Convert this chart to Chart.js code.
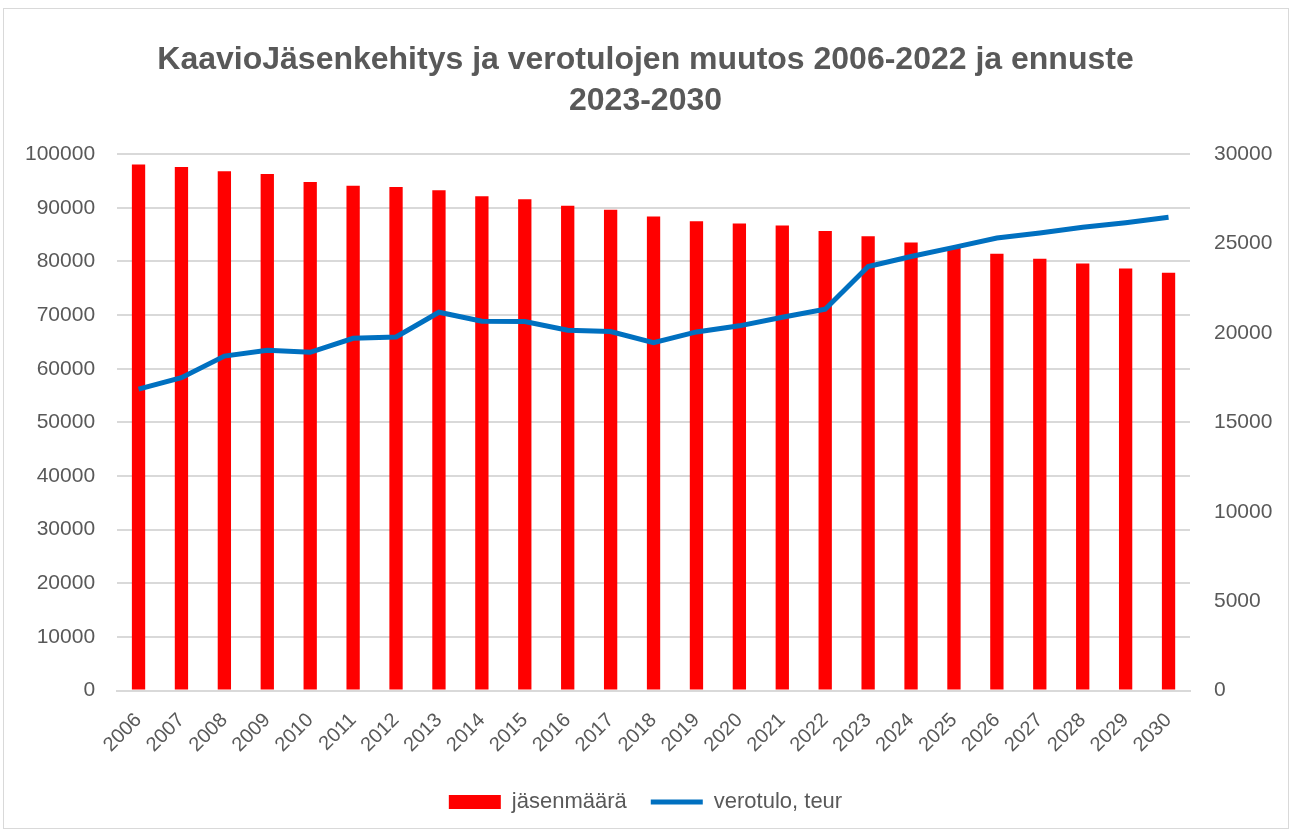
<!DOCTYPE html>
<html>
<head>
<meta charset="utf-8">
<script src="https://cdn.jsdelivr.net/npm/chart.js@4.4.1/dist/chart.umd.min.js"></script>
<style>
  html, body { margin: 0; padding: 0; background: #fff; }
  #wrap { position: relative; width: 1291px; height: 832px; box-sizing: border-box; }
  #frame { position: absolute; left: 3px; top: 8px; right: 2px; bottom: 3px; border: 1px solid #d9d9d9; }
</style>
</head>
<body>
<div id="wrap">
  <div id="frame"></div>
  <canvas id="chart"></canvas>
</div>
<script>
const years = ["2006", "2007", "2008", "2009", "2010", "2011", "2012", "2013", "2014",
  "2015", "2016", "2017", "2018", "2019", "2020", "2021", "2022", "2023", "2024",
  "2025", "2026", "2027", "2028", "2029", "2030"];

// jäsenmäärä (left axis)
const members = [98100, 97600, 96800, 96300, 94800, 94100, 93900, 93300, 92150,
  91600, 90400, 89650, 88400, 87500, 87100, 86700, 85700, 84700, 83550,
  82500, 81450, 80500, 79600, 78700, 77900];

// verotulo, teur (right axis)
const taxIncome = [16860, 17500, 18710, 19030, 18920, 19700, 19780, 21160, 20660,
  20640, 20150, 20080, 19460, 20060, 20400, 20880, 21330, 23720, 24280,
  24790, 25310, 25590, 25910, 26170, 26470];

const titleLines = ["KaavioJäsenkehitys ja verotulojen muutos 2006-2022 ja ennuste", "2023-2030"];

const textColor = "#595959";
const gridColor = "#d9d9d9";
const font = "'Liberation Sans', Arial, sans-serif";
const plain = (v) => String(v);

new Chart("chart", {
  data: {
    labels: years,
    datasets: [
      {
        type: "line",
        label: "verotulo, teur",
        data: taxIncome,
        yAxisID: "y2",
        borderColor: "#0070c0",
        backgroundColor: "#0070c0",
        borderWidth: 5,
        pointRadius: 0,
        pointStyle: "line",
        tension: 0,
        order: 0,
      },
      {
        type: "bar",
        label: "jäsenmäärä",
        data: members,
        yAxisID: "y",
        backgroundColor: "#ff0000",
        pointStyle: "rect",
        categoryPercentage: 1,
        barPercentage: 0.31,
        order: 1,
      },
    ],
  },
  options: {
    responsive: true,
    maintainAspectRatio: false,
    animation: false,
    layout: { padding: { left: 3, right: 3, top: 18, bottom: 9 } },
    plugins: {
      title: {
        display: true,
        text: titleLines,
        color: textColor,
        font: { family: font, size: 32, weight: "bold", lineHeight: 1.3 },
        padding: { top: 21, bottom: 32 },
      },
      legend: {
        position: "bottom",
        reverse: true,
        labels: {
          color: textColor,
          font: { family: font, size: 22 },
          usePointStyle: true,
          pointStyleWidth: 52,
          boxHeight: 14,
          padding: 24,
        },
      },
      tooltip: { enabled: false },
    },
    scales: {
      x: {
        grid: { display: false },
        border: { color: gridColor, width: 2 },
        ticks: {
          color: textColor,
          font: { family: font, size: 20 },
          maxRotation: 45,
          minRotation: 45,
          autoSkip: false,
          padding: 10,
        },
      },
      y: {
        position: "left",
        min: 0,
        max: 100000,
        grid: { color: gridColor, lineWidth: 2, drawTicks: false },
        border: { display: false },
        ticks: {
          stepSize: 10000,
          color: textColor,
          font: { family: font, size: 21 },
          padding: 22,
          callback: plain,
        },
      },
      y2: {
        position: "right",
        min: 0,
        max: 30000,
        grid: { display: false, drawTicks: false },
        border: { display: false },
        afterFit: (axis) => { axis.width = 98; },
        ticks: {
          stepSize: 5000,
          color: textColor,
          font: { family: font, size: 21 },
          padding: 24,
          callback: plain,
        },
      },
    },
  },
});
</script>
</body>
</html>
